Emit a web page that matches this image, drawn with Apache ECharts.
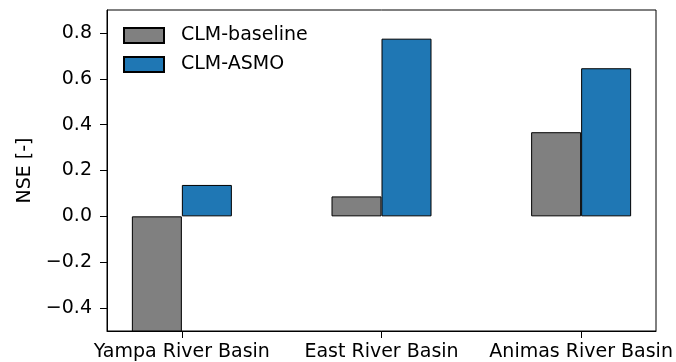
<!DOCTYPE html>
<html>
<head>
<meta charset="utf-8">
<script src="https://cdn.jsdelivr.net/npm/echarts@6/dist/echarts.min.js"></script>
<style>html,body{margin:0;padding:0;background:#fff;}#c{width:676px;height:362px;}</style>
</head>
<body>
<div id="c"></div>
<script>
const categories = ['Yampa River Basin', 'East River Basin', 'Animas River Basin'];
const seriesNames = ['CLM-baseline', 'CLM-ASMO'];
const baseline = [-0.62, 0.087, 0.367];
const asmo = [0.137, 0.775, 0.646];
const yTicks = [-0.4, -0.2, 0.0, 0.2, 0.4, 0.6, 0.8];
const xTicks = [0, 1, 2];

const font = 'DejaVu Sans';
const fs = 19;
const chart = echarts.init(document.getElementById('c'), null, {renderer: 'canvas'});
const fmtY = v => (v < 0 ? '\u2212' : '') + Math.abs(v).toFixed(1);

chart.setOption({
  animation: false,
  backgroundColor: '#fff',
  grid: {left: 107, right: 20, top: 10, bottom: 31, show: true, borderColor: '#000', borderWidth: 1, backgroundColor: 'transparent', containLabel: false},
  legend: {
    data: seriesNames,
    orient: 'vertical',
    left: 123, top: 26, padding: 0,
    itemWidth: 40, itemHeight: 15, itemGap: 10,
    icon: 'rect',
    textStyle: {fontFamily: font, fontSize: fs, color: '#000', padding: [0, 0, 0, 12]}
  },
  xAxis: {
    type: 'value', min: -0.375, max: 2.375,
    axisLine: {show: true, onZero: false, lineStyle: {color: '#000', width: 1}},
    axisTick: {show: true, length: 7, inside: false, customValues: xTicks, lineStyle: {color: '#000'}},
    axisLabel: {customValues: xTicks, formatter: v => categories[Math.round(v)], fontFamily: font, fontSize: fs, color: '#000', margin: 12},
    splitLine: {show: false}
  },
  yAxis: {
    type: 'value', min: -0.5, max: 0.9,
    name: 'NSE [-]', nameLocation: 'middle', nameGap: 70, nameRotate: 90,
    nameTextStyle: {fontFamily: font, fontSize: fs, color: '#000'},
    axisLine: {show: true, onZero: false, lineStyle: {color: '#000', width: 1}},
    axisTick: {show: true, length: 7, inside: false, customValues: yTicks, lineStyle: {color: '#000'}},
    axisLabel: {customValues: yTicks, formatter: fmtY, fontFamily: font, fontSize: fs, color: '#000', margin: 15},
    splitLine: {show: false}
  },
  series: [
    {name: seriesNames[0], type: 'bar', barWidth: 50, barGap: '0%', clip: true,
     itemStyle: {color: '#808080', borderColor: '#000', borderWidth: 1},
     data: baseline.map((v, i) => [xTicks[i], v])},
    {name: seriesNames[1], type: 'bar', barWidth: 50, barGap: '0%', clip: true,
     itemStyle: {color: '#1f77b4', borderColor: '#000', borderWidth: 1},
     data: asmo.map((v, i) => [xTicks[i], v])}
  ]
});
</script>
</body>
</html>
